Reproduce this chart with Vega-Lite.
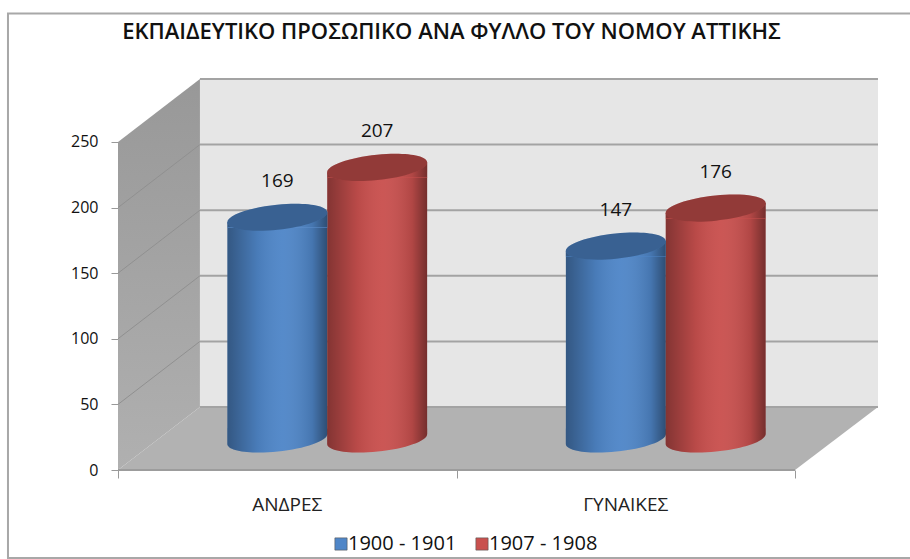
{
"$schema":"https://vega.github.io/schema/vega-lite/v6.json",
"width":761,"height":391,
"autosize":"none",
"padding":{"left":118,"top":79,"right":31,"bottom":89},
"background":"white",
"view":{"stroke":null},
"title":{"text":"ΕΚΠΑΙΔΕΥΤΙΚΟ ΠΡΟΣΩΠΙΚΟ ΑΝΑ ΦΥΛΛΟ ΤΟΥ ΝΟΜΟΥ ΑΤΤΙΚΗΣ","font":"Open Sans","fontSize":22,"fontWeight":600,"color":"#111111","anchor":"middle","dx":-47,"offset":-32},
"datasets":{
 "frame":[{"x":-0.325,"x2":2.5,"y":348,"y2":-67}],
 "wall":[{"x":0.242,"x2":2.245,"y":48,"y2":298}],
 "side":[{"x":0,"top":250,"bottom":0},{"x":0.242,"top":298,"bottom":48}],
 "floor":[{"x":0,"top":0,"bottom":0},{"x":0.242,"top":48,"bottom":0},{"x":2,"top":48,"bottom":0},{"x":2.245,"top":48,"bottom":48}],
 "diag":[{"x":0,"x2":0.242,"y":50,"y2":98},{"x":0,"x2":0.242,"y":100,"y2":148},{"x":0,"x2":0.242,"y":150,"y2":198},{"x":0,"x2":0.242,"y":200,"y2":248}],
 "back":[{"x":0.242,"x2":2.245,"y":48},{"x":0.242,"x2":2.245,"y":98},{"x":0.242,"x2":2.245,"y":148},{"x":0.242,"x2":2.245,"y":198},{"x":0.242,"x2":2.245,"y":248},{"x":0.242,"x2":2.245,"y":298}],
 "front":[{"x":0,"x2":2,"y":0}],
 "bars":[
  {"group":"ΑΝΔΡΕΣ","series":"1900 - 1901","value":169},
  {"group":"ΑΝΔΡΕΣ","series":"1907 - 1908","value":207},
  {"group":"ΓΥΝΑΙΚΕΣ","series":"1900 - 1901","value":147},
  {"group":"ΓΥΝΑΙΚΕΣ","series":"1907 - 1908","value":176}]
},
"resolve":{"scale":{"x":"independent"},"axis":{"x":"independent"}},
"layer":[
 {"layer":[
  {"data":{"name":"frame"},"mark":{"type":"rect","filled":false,"stroke":"#a8a8a8","strokeWidth":2,"clip":false},
   "encoding":{"x":{"field":"x","type":"quantitative","scale":{"domain":[0,2.248],"nice":false,"zero":false},
      "axis":{"title":null,"values":[0,1,2],"labels":false,"domain":false,"grid":false,"tickSize":8,"tickColor":"#999999","tickWidth":1}},
     "x2":{"field":"x2"},
     "y":{"field":"y","type":"quantitative","scale":{"domain":[0,298],"nice":false,"zero":false},
      "axis":{"title":null,"values":[0,50,100,150,200,250],"grid":false,"domain":false,"tickSize":7,"tickColor":"#999999","labelFont":"Open Sans","labelFontSize":16,"labelColor":"#111111","labelPadding":13}},
     "y2":{"field":"y2"}}},
  {"data":{"name":"wall"},"mark":{"type":"rect","fill":"#e6e6e6"},
   "encoding":{"x":{"field":"x","type":"quantitative"},"x2":{"field":"x2"},"y":{"field":"y","type":"quantitative"},"y2":{"field":"y2"}}},
  {"data":{"name":"side"},"mark":{"type":"area","color":{"gradient":"linear","x1":0,"y1":0,"x2":0,"y2":1,"stops":[{"offset":0,"color":"#989898"},{"offset":1,"color":"#b0b0b0"}]}},
   "encoding":{"x":{"field":"x","type":"quantitative"},"y":{"field":"top","type":"quantitative"},"y2":{"field":"bottom"}}},
  {"data":{"name":"floor"},"mark":{"type":"area","color":"#b2b2b2"},
   "encoding":{"x":{"field":"x","type":"quantitative"},"y":{"field":"top","type":"quantitative"},"y2":{"field":"bottom"}}},
  {"data":{"name":"diag"},"mark":{"type":"rule","color":"#909090","strokeWidth":1},
   "encoding":{"x":{"field":"x","type":"quantitative"},"x2":{"field":"x2"},"y":{"field":"y","type":"quantitative"},"y2":{"field":"y2"}}},
  {"data":{"name":"back"},"mark":{"type":"rule","color":"#a3a3a3","strokeWidth":2},
   "encoding":{"x":{"field":"x","type":"quantitative"},"x2":{"field":"x2"},"y":{"field":"y","type":"quantitative"}}},
  {"data":{"name":"front"},"mark":{"type":"rule","color":"#9c9c9c","strokeWidth":2},
   "encoding":{"x":{"field":"x","type":"quantitative"},"x2":{"field":"x2"},"y":{"field":"y","type":"quantitative"}}}
 ]},
 {"data":{"name":"bars"},
  "encoding":{
   "x":{"field":"group","type":"nominal","sort":null,
     "scale":{"range":[40,717],"paddingInner":0.41,"paddingOuter":0.205},
     "axis":{"orient":"bottom","title":null,"ticks":false,"domain":false,"grid":false,"labelAngle":0,"labelFont":"Open Sans","labelFontSize":19,"labelColor":"#222222","labelPadding":25,"labelOffset":-40}},
   "xOffset":{"field":"series","type":"nominal","sort":null}
  },
  "layer":[
   {"mark":{"type":"point","filled":true,"opacity":1,"size":10000,"yOffset":-31,"shape":"M-1,-0.21 L1,-0.21 L1,-0.1 A1,0.25 -6 0 1 -1,0.1 Z"},
    "encoding":{"y":{"datum":0,"type":"quantitative"},
     "color":{"field":"series","type":"nominal","sort":null,"scale":{"domain":["1900 - 1901","1907 - 1908"],"range":["#4f86c8","#c9504e"]},
      "legend":{"title":null,"orient":"none","direction":"horizontal","legendX":213,"legendY":455,"symbolType":"square","symbolSize":150,"symbolStrokeColor":"#555555","symbolStrokeWidth":0.6,"symbolOpacity":1,"labelFont":"Open Sans","labelFontSize":20,"labelColor":"#111111","labelOffset":-3,"columnPadding":15,"labelLimit":160}}}},
   {"mark":{"type":"point","filled":true,"opacity":1,"size":10000,"yOffset":-31,"shape":"M-1,-0.2 L1,-0.2 L1,-0.1 A1,0.25 -6 0 1 -1,0.1 Z","color":{"gradient":"linear","x1":0,"y1":0,"x2":1,"y2":0,"stops":[{"offset":0,"color":"rgba(0,0,0,0.35)"},{"offset":0.3,"color":"rgba(0,0,0,0.08)"},{"offset":0.55,"color":"rgba(255,255,255,0.04)"},{"offset":0.85,"color":"rgba(0,0,0,0.12)"},{"offset":1,"color":"rgba(0,0,0,0.42)"}]}},
    "encoding":{"y":{"datum":0,"type":"quantitative"}}},
   {"mark":{"type":"bar","yOffset":-21,"y2Offset":-41},
    "encoding":{"y":{"field":"value","type":"quantitative","stack":null},"y2":{"datum":0},
     "color":{"field":"series","type":"nominal"}}},
   {"mark":{"type":"bar","yOffset":-21,"y2Offset":-41,"color":{"gradient":"linear","x1":0,"y1":0,"x2":1,"y2":0,"stops":[{"offset":0,"color":"rgba(0,0,0,0.35)"},{"offset":0.3,"color":"rgba(0,0,0,0.08)"},{"offset":0.55,"color":"rgba(255,255,255,0.04)"},{"offset":0.85,"color":"rgba(0,0,0,0.12)"},{"offset":1,"color":"rgba(0,0,0,0.42)"}]}},
    "encoding":{"y":{"field":"value","type":"quantitative","stack":null},"y2":{"datum":0}}},
   {"mark":{"type":"point","filled":true,"opacity":1,"size":10000,"yOffset":-31,"shape":"M-1,0.1 L1,-0.1 L1,0.21 L-1,0.21 Z"},
    "encoding":{"y":{"field":"value","type":"quantitative"},"color":{"field":"series","type":"nominal"}}},
   {"mark":{"type":"point","filled":true,"opacity":1,"size":10000,"yOffset":-31,"shape":"M-1,0.1 L1,-0.1 L1,0.2 L-1,0.2 Z","color":{"gradient":"linear","x1":0,"y1":0,"x2":1,"y2":0,"stops":[{"offset":0,"color":"rgba(0,0,0,0.35)"},{"offset":0.3,"color":"rgba(0,0,0,0.08)"},{"offset":0.55,"color":"rgba(255,255,255,0.04)"},{"offset":0.85,"color":"rgba(0,0,0,0.12)"},{"offset":1,"color":"rgba(0,0,0,0.42)"}]}},
    "encoding":{"y":{"field":"value","type":"quantitative"}}},
   {"mark":{"type":"point","filled":true,"opacity":1,"size":10000,"yOffset":-31,"shape":"M-1,0.1 A1,0.25 -6 1 1 1,-0.1 A1,0.25 -6 1 1 -1,0.1 Z"},
    "encoding":{"y":{"field":"value","type":"quantitative"},"color":{"field":"series","type":"nominal"}}},
   {"mark":{"type":"point","filled":true,"opacity":0.27,"size":10000,"yOffset":-31,"color":"black","shape":"M-1,0.1 A1,0.25 -6 1 1 1,-0.1 A1,0.25 -6 1 1 -1,0.1 Z"},
    "encoding":{"y":{"field":"value","type":"quantitative"}}},
   {"mark":{"type":"text","font":"Open Sans","fontSize":19,"color":"#111111","yOffset":-67},
    "encoding":{"y":{"field":"value","type":"quantitative"},"text":{"field":"value","type":"quantitative"}}}
  ]}
]
}
